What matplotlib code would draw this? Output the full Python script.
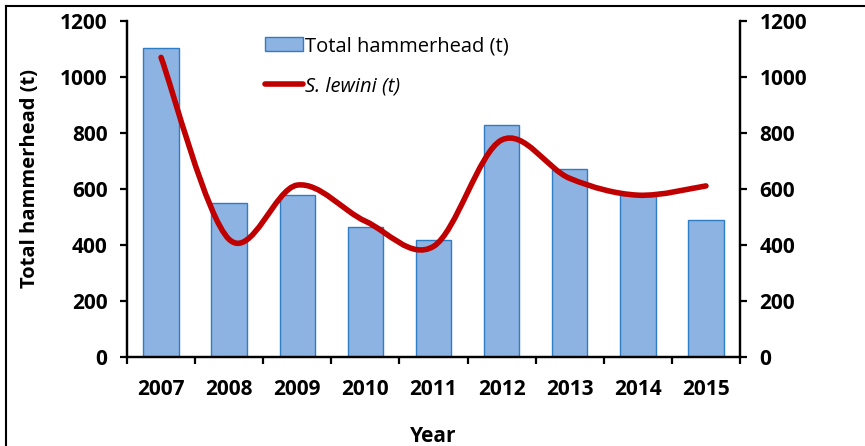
import numpy as np
import matplotlib
matplotlib.use("Agg")
import matplotlib.pyplot as plt
from matplotlib.path import Path
from matplotlib.patches import PathPatch
from matplotlib.lines import Line2D

plt.rcParams['font.family'] = ['Open Sans', 'DejaVu Sans']

years = ['2007', '2008', '2009', '2010', '2011', '2012', '2013', '2014', '2015']
total_hammerhead = [1105, 549, 577, 465, 419, 827, 670, 578, 491]
s_lewini = [1070, 420, 614, 485, 395, 775, 638, 578, 611]

W, H = 865, 446
fig = plt.figure(figsize=(W / 100, H / 100), dpi=100)
ax = fig.add_axes([127 / W, 1 - 357 / H, (740 - 127) / W, (357 - 21) / H])
ax2 = ax.twinx()

x = np.arange(len(years))
bars = ax.bar(x, total_hammerhead, width=0.52, color='#8db3e2',
              edgecolor='#2e7cc4', linewidth=1.0, label='Total hammerhead (t)', zorder=2)

# smoothed line like a spreadsheet "smoothed line" (Bezier through the points)
pts = np.column_stack([x, s_lewini]).astype(float)
verts = [pts[0]]
codes = [Path.MOVETO]
n = len(pts)
for i in range(n - 1):
    p0 = pts[max(i - 1, 0)]
    p1 = pts[i]
    p2 = pts[i + 1]
    p3 = pts[min(i + 2, n - 1)]
    c1 = p1 + (p2 - p0) / 6.0
    c2 = p2 - (p3 - p1) / 6.0
    verts += [c1, c2, p2]
    codes += [Path.CURVE4] * 3
curve = PathPatch(Path(verts, codes), facecolor='none', edgecolor='#c00000',
                  linewidth=4.0, capstyle='round', zorder=3)
ax2.add_patch(curve)
line_handle = Line2D([], [], color='#c00000', linewidth=4.0, solid_capstyle='round')

fs = 15
for a in (ax, ax2):
    a.set_ylim(0, 1200)
    a.set_yticks(range(0, 1201, 200))
    a.set_xlim(-0.5, len(years) - 0.5)
    for s in a.spines.values():
        s.set_linewidth(1.6)
    a.spines['top'].set_visible(False)
    a.tick_params(axis='y', direction='out', length=5, width=1.6, pad=9, labelsize=fs)
    for lab in a.get_yticklabels():
        lab.set_fontweight('bold')

ax.set_xticks(x)
ax.set_xticklabels(years, fontweight='bold', fontsize=fs)
ax.set_xticks(np.arange(-0.5, len(years), 1.0), minor=True)
ax.tick_params(axis='x', which='major', length=0, pad=16)
ax.tick_params(axis='x', which='minor', length=5, width=1.6, direction='out')

ax.set_xlabel('Year', fontweight='bold', fontsize=fs)
ax.xaxis.set_label_coords(0.5, -0.205)
ax.set_ylabel('Total hammerhead (t)', fontweight='bold', fontsize=14.5)
ax.yaxis.set_label_coords(-0.142, 0.53)

leg = fig.legend([bars, line_handle], ['Total hammerhead (t)', 'S. lewini (t)'],
                 loc='upper left', bbox_to_anchor=(257 / W, 1 - 28 / H),
                 frameon=False, fontsize=14.5, handlelength=1.9, handleheight=0.75,
                 handletextpad=0.1, labelspacing=1.0, borderaxespad=0)
leg.get_texts()[1].set_fontstyle('italic')

# chart border (cropped at right and bottom)
fig.add_artist(Line2D([6 / W, 1.0], [1 - 6 / H, 1 - 6 / H], color='black', linewidth=1.5,
                      transform=fig.transFigure))
fig.add_artist(Line2D([6 / W, 6 / W], [1 - 6 / H, 0.0], color='black', linewidth=1.5,
                      transform=fig.transFigure))

fig.savefig('out.png', dpi=100)
